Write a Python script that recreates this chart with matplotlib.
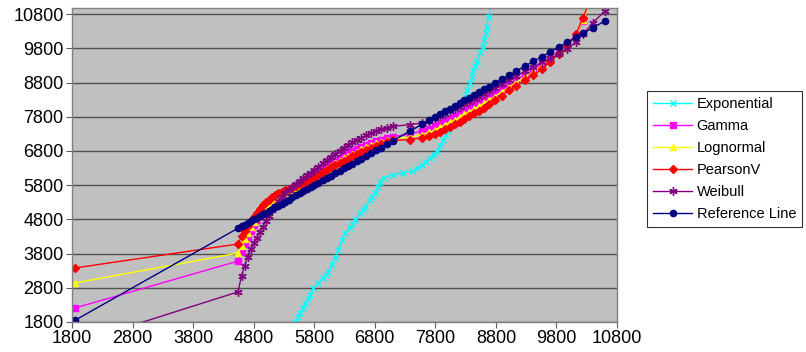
import matplotlib
matplotlib.use("Agg")
import matplotlib.pyplot as plt

plt.rcParams['font.family'] = ['Liberation Sans', 'DejaVu Sans']

# observed values (x axis), shared by the fitted series and the reference line
obs = [1850, 4540, 4600, 4650, 4700, 4750, 4800, 4850, 4900, 4950,
       5000, 5050, 5100, 5150, 5200, 5260, 5320, 5380, 5440, 5500,
       5560, 5620, 5680, 5740, 5800, 5870, 5940, 6010, 6080, 6150,
       6220, 6290, 6360, 6430, 6500, 6580, 6660, 6740, 6820, 6900,
       7000, 7100, 7380, 7580, 7700, 7800, 7880, 7960, 8040, 8120,
       8200, 8280, 8360, 8440, 8520, 8600, 8680, 8780, 8900, 9020,
       9140, 9280, 9420, 9560, 9700, 9840, 9980, 10120, 10240, 10400,
       10600]

ref = [1850, 4540, 4600, 4650, 4700, 4750, 4800, 4850, 4900, 4950,
       5000, 5050, 5100, 5150, 5200, 5260, 5320, 5380, 5440, 5500,
       5560, 5620, 5680, 5740, 5800, 5870, 5940, 6010, 6080, 6150,
       6220, 6290, 6360, 6430, 6500, 6580, 6660, 6740, 6820, 6900,
       7000, 7100, 7380, 7580, 7700, 7800, 7880, 7960, 8040, 8120,
       8200, 8280, 8360, 8440, 8520, 8600, 8680, 8780, 8900, 9020,
       9140, 9280, 9420, 9560, 9700, 9840, 9980, 10120, 10240, 10400,
       10600]

gamma = [2210, 3580, 3850, 4080, 4290, 4470, 4630, 4770, 4900, 5020,
         5120, 5210, 5290, 5360, 5420, 5480, 5540, 5610, 5670, 5740,
         5810, 5880, 5950, 6030, 6100, 6180, 6270, 6350, 6440, 6520,
         6600, 6670, 6740, 6800, 6860, 6920, 6980, 7030, 7080, 7130,
         7180, 7220, 7290, 7390, 7450, 7520, 7590, 7660, 7730, 7810,
         7890, 7970, 8050, 8130, 8210, 8290, 8380, 8490, 8620, 8750,
         8880, 9030, 9180, 9340, 9520, 9710, 9920, 10160, 10600, 11500,
         12800]

lognormal = [2940, 3815, 4020, 4230, 4410, 4570, 4710, 4840, 4960, 5070,
             5170, 5250, 5320, 5390, 5450, 5510, 5560, 5620, 5670, 5730,
             5790, 5860, 5920, 5990, 6060, 6140, 6220, 6300, 6380, 6450,
             6520, 6590, 6660, 6720, 6780, 6850, 6910, 6970, 7020, 7070,
             7120, 7160, 7200, 7280, 7350, 7420, 7490, 7560, 7640, 7710,
             7790, 7870, 7950, 8030, 8110, 8190, 8280, 8390, 8530, 8670,
             8810, 8970, 9120, 9290, 9480, 9690, 9900, 10180, 10640, 11300,
             12400]

pearson = [3380, 4080, 4300, 4460, 4620, 4760, 4880, 5000, 5110, 5210,
           5300, 5380, 5450, 5510, 5560, 5610, 5650, 5690, 5730, 5770,
           5820, 5870, 5920, 5980, 6040, 6110, 6180, 6250, 6320, 6390,
           6460, 6520, 6580, 6640, 6700, 6770, 6830, 6890, 6950, 7000,
           7060, 7110, 7130, 7190, 7240, 7300, 7360, 7430, 7500, 7580,
           7660, 7740, 7820, 7900, 7980, 8070, 8160, 8280, 8420, 8570,
           8710, 8870, 9020, 9200, 9410, 9640, 9860, 10220, 10690, 11400,
           12600]

weibull = [1170, 2680, 3150, 3450, 3700, 3920, 4100, 4270, 4430, 4590,
           4750, 4910, 5060, 5200, 5330, 5450, 5560, 5660, 5750, 5840,
           5930, 6010, 6090, 6170, 6250, 6340, 6440, 6540, 6630, 6720,
           6810, 6900, 6980, 7050, 7120, 7190, 7260, 7320, 7380, 7430,
           7480, 7520, 7570, 7620, 7680, 7750, 7820, 7890, 7960, 8030,
           8100, 8170, 8240, 8310, 8380, 8460, 8540, 8640, 8760, 8880,
           9000, 9130, 9260, 9390, 9510, 9630, 9780, 9990, 10220, 10550,
           10890]

# exponential series has its own x positions
exp_x = [5400, 5482, 5525, 5565, 5610, 5650, 5690, 5730, 5785, 5860,
         5945, 5990, 6030, 6090, 6140, 6195, 6255, 6310, 6390, 6430,
         6470, 6555, 6600, 6640, 6720, 6760, 6800, 6850, 6885, 6950,
         7100, 7260, 7410, 7500, 7575, 7650, 7710, 7770, 7820, 7880,
         7930, 7970, 8010, 8050, 8090, 8150, 8206, 8250, 8290, 8330,
         8370, 8400, 8420, 8450, 8480, 8540, 8580, 8610, 8630, 8650,
         8680, 8720]
exp_y = [1550, 1810, 1940, 2060, 2210, 2355, 2470, 2590, 2790, 2940,
         3085, 3170, 3260, 3470, 3670, 3900, 4195, 4400, 4550, 4660,
         4780, 4980, 5070, 5160, 5360, 5460, 5570, 5750, 5890, 6020,
         6100, 6160, 6200, 6300, 6390, 6490, 6590, 6680, 6775, 6950,
         7120, 7270, 7410, 7580, 7760, 7920, 8080, 8230, 8380, 8580,
         8780, 8960, 9160, 9290, 9410, 9650, 9850, 10040, 10240, 10430,
         10720, 11100]

ticks = [1800, 2800, 3800, 4800, 5800, 6800, 7800, 8800, 9800, 10800]

fig = plt.figure(figsize=(8.06, 3.52), dpi=100)
ax = fig.add_axes([72/806, 30/352, 545/806, 314/352])
ax.set_facecolor('#C0C0C0')

ax.plot(exp_x, exp_y, color='#00FFFF', marker='x', markersize=5, lw=1, label='Exponential')
ax.plot(obs, gamma, color='#FF00FF', marker='s', markersize=4, lw=1, label='Gamma')
ax.plot(obs, lognormal, color='#FFFF00', marker='^', markersize=5, lw=1, label='Lognormal')
ax.plot(obs, pearson, color='#FF0000', marker='D', markersize=4, lw=1, label='PearsonV')
ax.plot(obs, weibull, color='#800080', marker=(6, 2, 0), markersize=6, mew=1, lw=1, label='Weibull')
ax.plot(obs, ref, color='#000080', marker='o', markersize=4.5, lw=1, label='Reference Line')

ax.set_xlim(1800, 10800)
ax.set_ylim(1800, 10980)
ax.set_xticks(ticks)
ax.set_yticks(ticks)
ax.set_xticklabels([str(t) for t in ticks])
ax.set_yticklabels([str(t) for t in ticks])
ax.tick_params(labelsize=13, length=4, color='#606060', pad=2)
ax.yaxis.grid(True, color='#505050', lw=1)
ax.set_axisbelow(True)
for s in ax.spines.values():
    s.set_color('#808080')
    s.set_linewidth(1)

leg = fig.legend(loc='upper left', bbox_to_anchor=(647/806, 1 - 91/352),
                 fontsize=10.5, frameon=True, fancybox=False, handlelength=2.7,
                 handletextpad=0.3, labelspacing=0.55, borderpad=0.4,
                 borderaxespad=0)
leg.get_frame().set_edgecolor('#000000')
leg.get_frame().set_linewidth(0.8)

fig.savefig('out.png', dpi=100)
